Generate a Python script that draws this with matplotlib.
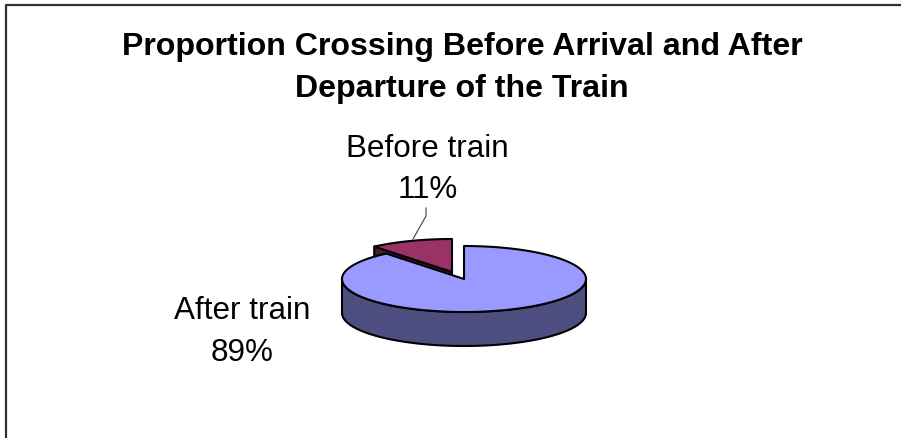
import numpy as np
import matplotlib
matplotlib.use('Agg')
import matplotlib.pyplot as plt
from matplotlib.patches import Polygon

plt.rcParams['font.family'] = ['Liberation Sans', 'DejaVu Sans']

title = 'Proportion Crossing Before Arrival and After\nDeparture of the Train'
labels = ['After train', 'Before train']
values = [89, 11]

W, H = 901, 438
RX, RY, DEPTH = 122, 33, 34   # projected pie radii and rim height, pixels
CENTER = (464, 279)
EXPLODE = (-12, -7)
EDGE = '#000000'


def arc(frac0, frac1, center, n=120):
    # fractions run counter-clockwise from 12 o'clock
    t = 2 * np.pi * np.linspace(frac0, frac1, n)
    return center[0] - RX * np.sin(t), center[1] - RY * np.cos(t)


def add_poly(ax, x, y, color, z):
    ax.add_patch(Polygon(np.column_stack([x, y]), closed=True, facecolor=color,
                         edgecolor=EDGE, linewidth=1.5, joinstyle='round', zorder=z))


fig = plt.figure(figsize=(W / 100, H / 100), dpi=100)
ax = fig.add_axes([0, 0, 1, 1])
ax.set_xlim(0, W)
ax.set_ylim(H, 0)
ax.axis('off')

# chart border, only left and top show in the crop
ax.plot([6, 6, 901], [438, 5, 5], color='#303030', linewidth=1.6, zorder=1)

small = values[1] / sum(values)

# exploded slice: cut face first, then top
c2 = (CENTER[0] + EXPLODE[0], CENTER[1] + EXPLODE[1])
xs, ys = arc(0, small, c2)
add_poly(ax, [c2[0], xs[-1], xs[-1], c2[0]],
         [c2[1], ys[-1], ys[-1] + DEPTH, c2[1] + DEPTH], '#4d1a33', 2)
add_poly(ax, np.r_[c2[0], xs], np.r_[c2[1], ys], '#993366', 3)

# big slice: rim (front half of the ellipse), then top
xb, yb = arc(0.25, 0.75, CENTER)
add_poly(ax, np.r_[xb, xb[::-1]], np.r_[yb, yb[::-1] + DEPTH], '#4d4d80', 4)
xt, yt = arc(small, 1, CENTER, 300)
add_poly(ax, np.r_[CENTER[0], xt], np.r_[CENTER[1], yt], '#9999ff', 5)

# leader line to the small slice
ax.plot([426, 426, 413], [208, 216, 239], color='#404040', linewidth=0.8, zorder=6)

ax.text(462, 68, title, ha='center', va='center', fontsize=23.1, fontweight='bold',
        linespacing=1.49, color='black')
ax.text(427.5, 169.5, f'{labels[1]}\n{values[1]}%', ha='center', va='center',
        fontsize=22.6, linespacing=1.5, color='black')
ax.text(242, 332, f'{labels[0]}\n{values[0]}%', ha='center', va='center',
        fontsize=22.6, linespacing=1.5, color='black')

fig.savefig('out.png', dpi=100)
